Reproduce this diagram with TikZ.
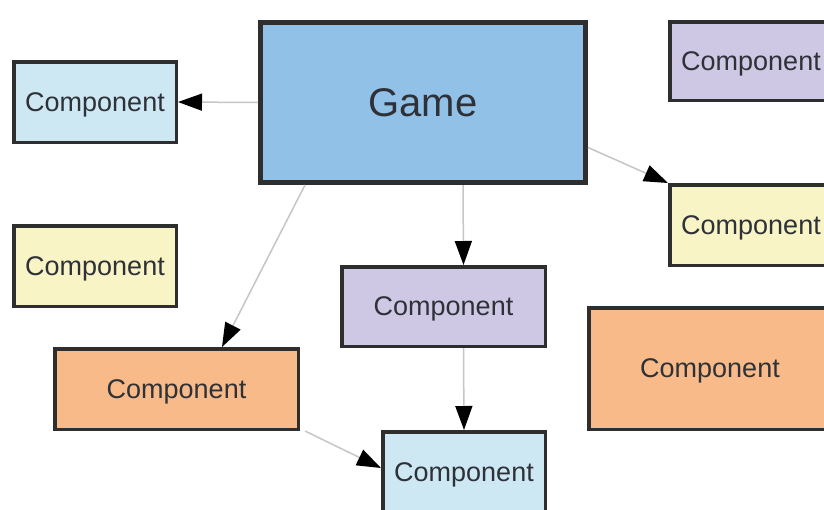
\documentclass[tikz,border=0pt]{standalone}
\usepackage{fontspec}
\setmainfont{Liberation Sans}
\usetikzlibrary{arrows.meta}
\definecolor{bordc}{HTML}{2E2E2E}
\definecolor{txtc}{HTML}{2E3138}
\definecolor{gamef}{HTML}{92C1E7}
\definecolor{lbluef}{HTML}{CDE8F3}
\definecolor{yellf}{HTML}{F8F4C6}
\definecolor{purpf}{HTML}{CEC8E4}
\definecolor{orangef}{HTML}{F7BA88}
\definecolor{linec}{HTML}{C6C6C6}
\tikzset{
  comp/.style={draw=bordc, line width=3.5pt, inner sep=0pt, text=txtc,
    text depth=0pt, font=\fontsize{27}{30}\selectfont},
  gamebox/.style={draw=bordc, line width=5pt, inner sep=0pt, text=txtc,
    text depth=0pt, fill=gamef, font=\fontsize{40}{44}\selectfont},
  conn/.style={draw=linec, line width=1.5pt,
    -{Triangle[length=24pt,width=17pt,color=black]}}
}
\begin{document}
\begin{tikzpicture}[x=1pt,y=-1pt]
\useasboundingbox (0,0) rectangle (824,509);
\fill[white] (0,0) rectangle (824,509);
\clip (0,0) rectangle (824,509);
\node[gamebox, minimum width=325pt, minimum height=160pt] (game) at (423,102.5) {Game};
\node[comp, fill=lbluef, minimum width=162.5pt, minimum height=80.5pt] (c1) at (95,102) {Component};
\node[comp, fill=yellf, minimum width=162.5pt, minimum height=80.5pt] (c2) at (95,266) {Component};
\node[comp, fill=orangef, minimum width=243.5pt, minimum height=80.5pt] (c3) at (176.5,389) {Component};
\node[comp, fill=purpf, minimum width=203.5pt, minimum height=79.5pt] (c4) at (443.5,306.5) {Component};
\node[comp, fill=lbluef, minimum width=162.5pt, minimum height=80.5pt] (c5) at (464,472) {Component};
\node[comp, fill=orangef, minimum width=242.5pt, minimum height=121.5pt] (c6) at (710,368.5) {Component};
\node[comp, fill=purpf, minimum width=162.5pt, minimum height=78.5pt] (c7) at (751,61) {Component};
\node[comp, fill=yellf, minimum width=162.5pt, minimum height=80.5pt] (c8) at (751,225) {Component};
\draw[conn] (game.west) -- (c1.east);
\draw[conn] ([xshift=47pt]game.south west) -- ([xshift=169pt]c3.north west);
\draw[conn] ([xshift=40pt]game.south) -- ([xshift=20pt]c4.north);
\draw[conn] ([yshift=-45pt]game.east) -- (c8.north west);
\draw[conn] ([xshift=20pt]c4.south) -- (c5.north);
\draw[conn] ([xshift=5pt]c3.south east) -- ([yshift=-38pt]c5.north west);
\end{tikzpicture}
\end{document}
